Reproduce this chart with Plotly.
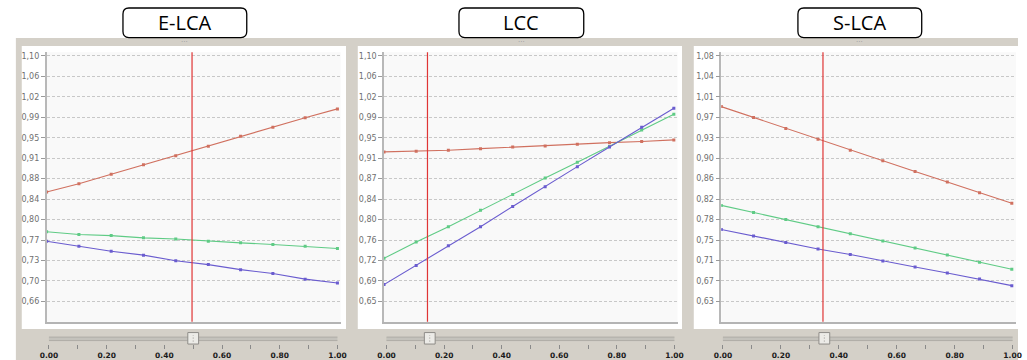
import numpy as np
import plotly.graph_objects as go

W, H = 1027, 360

# ---------------- data ----------------
titles = ["E-LCA", "LCC", "S-LCA"]
weight_x = [0.0, 0.111, 0.222, 0.333, 0.444, 0.556, 0.667, 0.778, 0.889, 1.0]

elca_red = [0.856, 0.871, 0.888, 0.905, 0.921, 0.938, 0.956, 0.972, 0.989, 1.005]
elca_green = [0.785, 0.780, 0.778, 0.774, 0.772, 0.768, 0.765, 0.762, 0.759, 0.755]
elca_blue = [0.768, 0.759, 0.750, 0.743, 0.733, 0.726, 0.717, 0.710, 0.700, 0.693]

lcc_red = [0.924, 0.925, 0.927, 0.930, 0.933, 0.935, 0.938, 0.941, 0.943, 0.946]
lcc_green = [0.729, 0.759, 0.787, 0.817, 0.846, 0.876, 0.905, 0.934, 0.964, 0.993]
lcc_blue = [0.681, 0.716, 0.752, 0.787, 0.824, 0.860, 0.897, 0.933, 0.969, 1.004]

slca_red = [0.987, 0.967, 0.947, 0.927, 0.907, 0.888, 0.868, 0.849, 0.829, 0.810]
slca_green = [0.806, 0.793, 0.780, 0.767, 0.754, 0.741, 0.728, 0.715, 0.702, 0.689]
slca_blue = [0.762, 0.750, 0.738, 0.726, 0.716, 0.704, 0.693, 0.682, 0.671, 0.659]

selected_weight = [0.50, 0.15, 0.35]

elca_yticks = ["0,66", "0,70", "0,73", "0,77", "0,80", "0,84", "0,88", "0,91", "0,95", "0,99", "1,02", "1,06", "1,10"]
lcc_yticks = ["0,65", "0,69", "0,72", "0,76", "0,80", "0,84", "0,87", "0,91", "0,95", "0,99", "1,02", "1,06", "1,10"]
slca_yticks = ["0,63", "0,67", "0,71", "0,75", "0,78", "0,82", "0,86", "0,90", "0,93", "0,97", "1,01", "1,04", "1,08"]

slider_tickvals = [0.0, 0.2, 0.4, 0.6, 0.8, 1.0]
slider_ticktext = ["0.00", "0.20", "0.40", "0.60", "0.80", "1.00"]

panel_series = [
    [elca_red, elca_green, elca_blue],
    [lcc_red, lcc_green, lcc_blue],
    [slca_red, slca_green, slca_blue],
]
panel_yticks = [elca_yticks, lcc_yticks, slca_yticks]

# ---------------- style / geometry (pixels) ----------------
COLORS = ["#d0705f", "#5fcb85", "#6a5ccf"]
GREY_BG = "#d4d0c8"
panel_boxes = [(13, 343), (355, 685), (697, 1027)]
plot_x = [(38.3, 337.5), (381.7, 680.5), (725.0, 1025.0)]
data_end = [334.3, 676.7, 1020.7]
slider_x = [(40.7, 334.3), (384.3, 677.3), (726.7, 1021.5)]
title_box = [(116, 242), (458, 585), (803, 929)]
PLOT_TOP, PLOT_BOT = 51.5, 321.7
TICK_TOP, TICK_BOT = 55.0, 301.3


def px(x):
    return x / W


def py(y):
    return 1 - y / H


def rounded_path(x0, y0, x1, y1, r):
    X0, X1 = px(x0), px(x1)
    Y0, Y1 = py(y0), py(y1)
    rx, ry = r / W, r / H
    return (f"M {X0+rx},{Y0} L {X1-rx},{Y0} Q {X1},{Y0} {X1},{Y0-ry} "
            f"L {X1},{Y1+ry} Q {X1},{Y1} {X1-rx},{Y1} L {X0+rx},{Y1} "
            f"Q {X0},{Y1} {X0},{Y1+ry} L {X0},{Y0-ry} Q {X0},{Y0} {X0+rx},{Y0} Z")


fig = go.Figure()
shapes = []
annotations = []
layout_axes = {}

# background
shapes.append(dict(type="rect", xref="paper", yref="paper", x0=px(7), x1=px(W), y0=py(H), y1=py(37),
                   fillcolor=GREY_BG, line=dict(width=0), layer="below"))

for i in range(3):
    n = i + 1
    xa = "x" if n == 1 else f"x{n}"
    ya = "y" if n == 1 else f"y{n}"
    sx = f"x{n+3}"
    sy = f"y{n+3}"

    bx0, bx1 = panel_boxes[i]
    shapes.append(dict(type="rect", xref="paper", yref="paper", x0=px(bx0), x1=px(bx1),
                       y0=py(329), y1=py(45), fillcolor="white", line=dict(width=0), layer="below"))
    p0, p1 = plot_x[i]
    shapes.append(dict(type="rect", xref="paper", yref="paper", x0=px(p0), x1=px(p1),
                       y0=py(PLOT_BOT), y1=py(PLOT_TOP), fillcolor="#f9f9f9", line=dict(width=0), layer="below"))

    labels = panel_yticks[i]
    bot_val = float(labels[0].replace(",", "."))
    top_val = float(labels[-1].replace(",", "."))
    tickvals = list(np.linspace(bot_val, top_val, len(labels)))
    per_px = (top_val - bot_val) / (TICK_BOT - TICK_TOP)
    yr = [bot_val - (PLOT_BOT - TICK_BOT) * per_px, top_val + (TICK_TOP - PLOT_TOP) * per_px]
    xr_end = (p1 - p0) / (data_end[i] - p0)

    for s, col in zip(panel_series[i], COLORS):
        fig.add_trace(go.Scatter(x=weight_x, y=s, mode="lines+markers", xaxis=xa, yaxis=ya,
                                 line=dict(color=col, width=1.1),
                                 marker=dict(symbol="square", size=3, color=col),
                                 showlegend=False, hoverinfo="skip"))

    layout_axes["xaxis" if n == 1 else f"xaxis{n}"] = dict(
        domain=[px(p0), px(p1)], range=[0, xr_end], anchor=ya,
        showgrid=False, zeroline=False, showticklabels=False, ticks="",
        showline=True, linecolor="#b4b4b4", linewidth=1.5)
    layout_axes["yaxis" if n == 1 else f"yaxis{n}"] = dict(
        domain=[py(PLOT_BOT), py(PLOT_TOP)], range=yr, anchor=xa,
        tickmode="array", tickvals=tickvals, ticktext=labels,
        showgrid=True, gridcolor="#c8c8c8", gridwidth=1, griddash="3px,2px",
        zeroline=False, showline=True, linecolor="#b8b8b8", linewidth=1.5,
        ticks="outside", ticklen=4, tickcolor="#9a9a9a", tickwidth=1,
        tickfont=dict(family="DejaVu Sans", size=8, color="#707070"))

    shapes.append(dict(type="line", xref=xa, yref=f"{ya} domain", x0=selected_weight[i], x1=selected_weight[i],
                       y0=0, y1=1, line=dict(color="#e03535", width=1.2)))

    s0, s1 = slider_x[i]
    fig.add_trace(go.Scatter(x=[0, 1], y=[0, 0], mode="markers", xaxis=sx, yaxis=sy,
                             marker=dict(opacity=0, size=1), showlegend=False, hoverinfo="skip"))
    layout_axes[f"xaxis{n+3}"] = dict(
        domain=[px(s0), px(s1)], range=[0, 1], anchor=sy,
        tickmode="array", tickvals=slider_tickvals, ticktext=slider_ticktext,
        ticks="outside", ticklen=4, tickcolor="#8a8a8a", tickwidth=1,
        minor=dict(dtick=0.1, tick0=0, ticks="outside", ticklen=4, tickcolor="#8a8a8a", showgrid=False),
        showgrid=False, zeroline=False, showline=False,
        tickfont=dict(family="DejaVu Sans", size=7.5, color="#1a1a1a", weight="bold"))
    layout_axes[f"yaxis{n+3}"] = dict(domain=[py(344), py(333)], range=[0, 1], anchor=sx, visible=False)

    shapes.append(dict(type="rect", xref=sx, yref="paper", x0=-0.003, x1=1.005, y0=py(340.5), y1=py(337),
                       fillcolor="#c4c2bc", line=dict(color="#a8a6a0", width=0.8)))
    half = 5.5 / (s1 - s0)
    shapes.append(dict(type="rect", xref=sx, yref="paper",
                       x0=selected_weight[i] - half, x1=selected_weight[i] + half,
                       y0=py(344), y1=py(332.5),
                       fillcolor="#ecebe7", line=dict(color="#8e8c88", width=1)))
    shapes.append(dict(type="line", xref=sx, yref="paper", x0=selected_weight[i], x1=selected_weight[i],
                       y0=py(341.5), y1=py(335), line=dict(color="#9a9893", width=1, dash="1px,2px")))

    t0, t1 = title_box[i]
    shapes.append(dict(type="path", xref="paper", yref="paper", path=rounded_path(t0, 7, t1, 36.7, 6),
                       fillcolor="white", line=dict(color="black", width=1.3), layer="above"))
    annotations.append(dict(xref="paper", yref="paper", x=px((t0 + t1) / 2), y=py(22),
                            text=titles[i], showarrow=False, xanchor="center", yanchor="middle",
                            font=dict(family="Open Sans", size=20, color="black")))
    annotations.append(dict(xref="paper", yref="paper", x=px((t0 + t1) / 2), y=py(41.5),
                            text="···", showarrow=False, xanchor="center", yanchor="middle",
                            font=dict(family="DejaVu Sans", size=7, color="#9a9a9a")))

fig.update_layout(
    width=W, height=H, autosize=False,
    margin=dict(l=0, r=0, t=0, b=0, pad=0),
    paper_bgcolor="white", plot_bgcolor="rgba(0,0,0,0)",
    shapes=shapes, annotations=annotations, showlegend=False,
    **layout_axes,
)

fig.write_html("out.html", config={"displayModeBar": False},
               post_script="document.documentElement.style.margin='0';document.body.style.margin='0';"
                           "document.body.style.padding='0';document.body.style.overflow='hidden';")
